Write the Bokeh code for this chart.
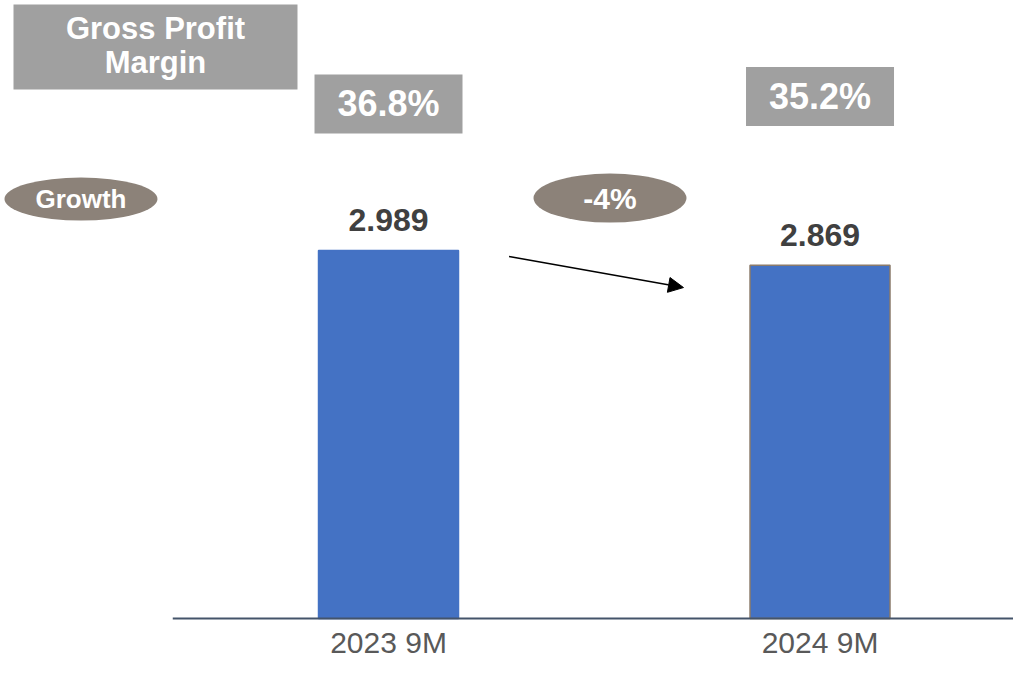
from bokeh.plotting import figure
from bokeh.models import Range1d, ColumnDataSource, Arrow, NormalHead
from bokeh.core.properties import value
from bokeh.embed import file_html
from bokeh.resources import INLINE

# ---- data ----
categories = ["2023 9M", "2024 9M"]
gross_profit = [2.989, 2.869]
value_labels = ["2.989", "2.869"]
margins = ["36.8%", "35.2%"]
growth_label = ["-4%"]

FONT = "Liberation Sans"
xs = [i + 0.5 for i in range(len(categories))]

p = figure(width=1013, height=658, output_backend="svg", toolbar_location=None,
           x_range=Range1d(-0.3992, 1.9484), y_range=Range1d(-0.3249, 5.0195),
           x_axis_location=None, y_axis_location=None, min_border=0,
           tools="")
p.outline_line_color = None
p.xgrid.visible = False
p.ygrid.visible = False
p.background_fill_color = "white"
p.border_fill_color = "white"

# bars
src = ColumnDataSource(dict(x=xs, top=gross_profit, lbl=value_labels, cat=categories,
                            lc=["#4472C4", "#8B7B6B"]))
p.vbar(x="x", top="top", bottom=0, width=0.3244, source=src,
       fill_color="#4472C4", line_color="lc", line_width=1.5)

# baseline
p.segment(x0=0, y0=0, x1=2.2, y1=0, line_color="#44546A", line_width=2)

# value labels
p.text(x="x", y="top", text="lbl", source=src, y_offset=-30,
       text_align="center", text_baseline="middle", text_color="#404040",
       text_font=value(FONT), text_font_style="bold", text_font_size="32px")

# category labels
p.text(x="x", y=0, text="cat", source=src, y_offset=24,
       text_align="center", text_baseline="middle", text_color="#595959",
       text_font=value(FONT), text_font_size="30px")

# margin boxes
msrc = ColumnDataSource(dict(x=xs, y=[4.179, 4.240], t=margins))
p.rect(x="x", y="y", width=148, height=59, width_units="screen", height_units="screen",
       source=msrc, fill_color="#A0A0A0", line_color=None)
p.text(x="x", y="y", text="t", source=msrc, text_align="center", text_baseline="middle",
       text_color="white", text_font=value(FONT), text_font_style="bold",
       text_font_size="36px")

# Gross Profit Margin title box
p.rect(x=[-0.0400], y=[4.642], width=284, height=85, width_units="screen",
       height_units="screen", fill_color="#A0A0A0", line_color=None)
p.text(x=[-0.0400, -0.0400], y=[4.796, 4.512], text=["Gross Profit", "Margin"],
       text_align="center", text_baseline="middle", text_color="white",
       text_font=value(FONT), text_font_style="bold", text_font_size="31px")

# Growth pills
p.ellipse(x=[-0.2127], y=[3.407], width=153, height=43, width_units="screen",
          height_units="screen", fill_color="#8C8279", line_color=None)
p.text(x=[-0.2127], y=[3.407], text=["Growth"], text_align="center",
       text_baseline="middle", text_color="white", text_font=value(FONT),
       text_font_style="bold", text_font_size="26px")

gx = (xs[0] + xs[1]) / 2 + 0.0133
p.ellipse(x=[gx], y=[3.415], width=153, height=49, width_units="screen",
          height_units="screen", fill_color="#8C8279", line_color=None)
p.text(x=[gx], y=[3.415], text=growth_label, text_align="center",
       text_baseline="middle", text_color="white", text_font=value(FONT),
       text_font_style="bold", text_font_size="30px")

# arrow
p.add_layout(Arrow(end=NormalHead(size=15, fill_color="black", line_color="black"),
                   x_start=0.7794, y_start=2.940, x_end=1.1836, y_end=2.688,
                   line_color="black", line_width=1.5))

open("out.html", "w").write(file_html(p, INLINE))
